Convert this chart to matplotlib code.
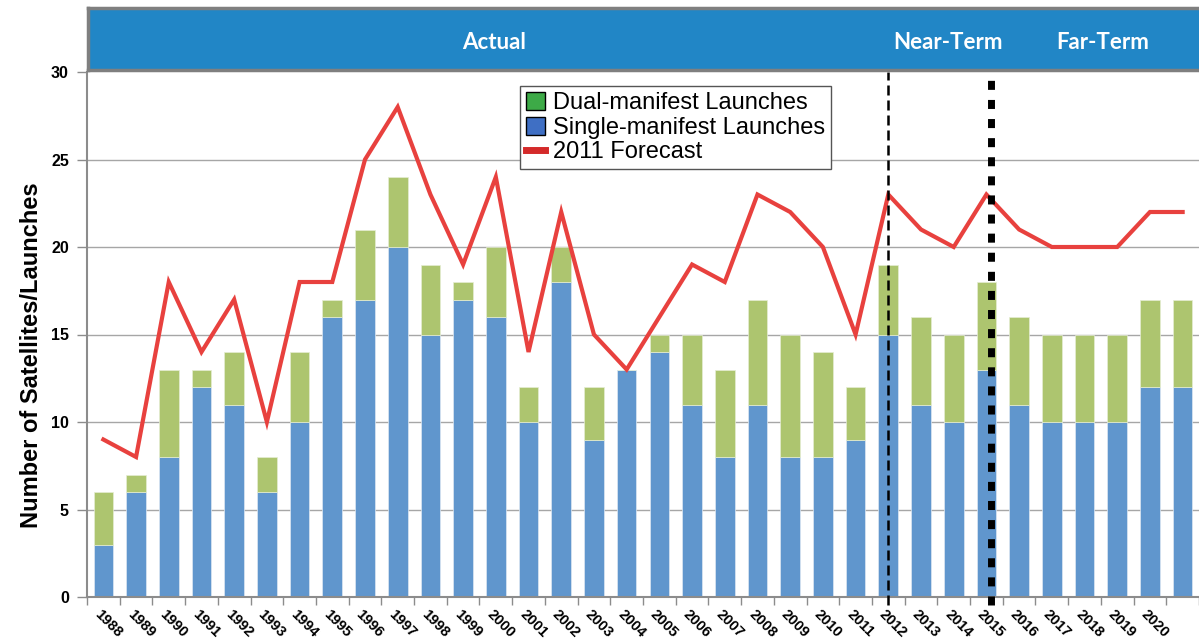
import numpy as np
import matplotlib.pyplot as plt

# launch counts per year
years = list(range(1988, 2022))
single = [3, 6, 8, 12, 11, 6, 10, 16, 17, 20, 15, 17, 16, 10, 18, 9, 13, 14,
          11, 8, 11, 8, 8, 9, 15, 11, 10, 13, 11, 10, 10, 10, 12, 12]
total = [6, 7, 13, 13, 14, 8, 14, 17, 21, 24, 19, 18, 20, 12, 20, 12, 13, 15,
         15, 13, 17, 15, 14, 12, 19, 16, 15, 18, 16, 15, 15, 15, 17, 17]
forecast = [9, 8, 18, 14, 17, 10, 18, 18, 25, 28, 23, 19, 24, 14, 22, 15, 13, 16,
            19, 18, 23, 22, 20, 15, 23, 21, 20, 23, 21, 20, 20, 20, 22, 22]
dual = [t - s for t, s in zip(total, single)]

phases = ["Actual", "Near-Term", "Far-Term"]
phase_x = [11.83, 25.57, 30.27]

BLUE = "#6096CD"
GREEN = "#ADC56F"
RED = "#E8413E"
GRID = "#A6A6A6"

plt.rcParams['font.family'] = ['Liberation Sans', 'DejaVu Sans']

W, H = 1199, 643
fig = plt.figure(figsize=(W / 100, H / 100), dpi=100)
left = 87 / W
ax = fig.add_axes([left, 1 - 597 / H, 1 - left, (597 - 72) / H])

x = np.arange(len(years))
ax.bar(x, single, width=0.6, color=BLUE, edgecolor="#DDE8F3", linewidth=0.5, zorder=2)
ax.bar(x, dual, bottom=single, width=0.6, color=GREEN, edgecolor="#E5EDD3", linewidth=0.5, zorder=2)
ax.plot(x, forecast, color=RED, lw=3, solid_joinstyle="miter", zorder=4)

xlim = (-0.5, 33.24)
ax.set_xlim(*xlim)
ax.set_ylim(0, 30)
ax.set_yticks(range(0, 31, 5))
ax.set_yticklabels([str(v) for v in range(0, 31, 5)], fontsize=11.5, fontweight="bold")
for v in range(5, 30, 5):
    ax.axhline(v, color=GRID, lw=1, zorder=1)

ax.set_xticks(x + 0.5, minor=False)
ax.set_xticks([-0.5], minor=True)
ax.set_xticklabels([])
ax.tick_params(axis="x", which="both", length=6, color="#8C8C8C", width=1)
ax.tick_params(axis="y", length=7, color="#8C8C8C", width=1, pad=6)
# the last year sits at the cropped right edge, so it gets no label
for xi, yr in zip(x[:-1], years[:-1]):
    ax.text(xi - 0.05, -0.6, str(yr), rotation=-45, rotation_mode="anchor",
            ha="left", va="top", fontsize=10.5, fontweight="bold", clip_on=False)

for s in ["top", "right"]:
    ax.spines[s].set_visible(False)
for s in ["left", "bottom"]:
    ax.spines[s].set_color("#8C8C8C")
    ax.spines[s].set_linewidth(1.5)

ax.set_ylabel("Number of Satellites/Launches", fontsize=17, fontweight="bold")
ax.yaxis.set_label_coords(-0.04, 0.46)

# near-term / far-term markers
ax.axvline(24, ymin=-0.015, ymax=1, color="black", lw=1.8, dashes=(4, 2),
           clip_on=False, zorder=5)
ax.axvline(27.15, ymin=-0.015, ymax=1, color="black", lw=5, dashes=(1.3, 1.45),
           dash_capstyle="butt", clip_on=False, zorder=5)

# legend
handles = [
    plt.Rectangle((0, 0), 1, 1, facecolor="#3DAA47", edgecolor="black", lw=1),
    plt.Rectangle((0, 0), 1, 1, facecolor="#3F6FC4", edgecolor="black", lw=1),
    plt.Line2D([0], [0], color="#D42A2A", lw=5),
]
labels = ["Dual-manifest Launches", "Single-manifest Launches", "2011 Forecast"]
leg = ax.legend(handles, labels, loc="upper left",
                bbox_to_anchor=((520 - 87) / (W - 87), 1 - (86 - 72) / 525),
                fontsize=17, frameon=True, fancybox=False, framealpha=1, edgecolor="#555555",
                handlelength=0.8, handleheight=0.8, handletextpad=0.35, labelspacing=0.1,
                borderpad=0.25, borderaxespad=0)
leg.get_frame().set_linewidth(1)

# phase banner
axb = fig.add_axes([88 / W, 1 - 70 / H, 1 - 88 / W + 0.01, 62 / H])
axb.set_facecolor("#2186C6")
axb.set_xlim(xlim[0] + 1 / 33, xlim[1] + 0.3)
axb.set_ylim(0, 1)
axb.set_xticks([])
axb.set_yticks([])
for s in axb.spines.values():
    s.set_color("#7F7F7F")
    s.set_linewidth(2.5)
for name, px in zip(phases, phase_x):
    axb.text(px, 0.44, name, ha="center", va="center", color="white",
             fontsize=16, fontweight="bold", family=["Lato", "DejaVu Sans"])

fig.savefig("out.png", dpi=100)
